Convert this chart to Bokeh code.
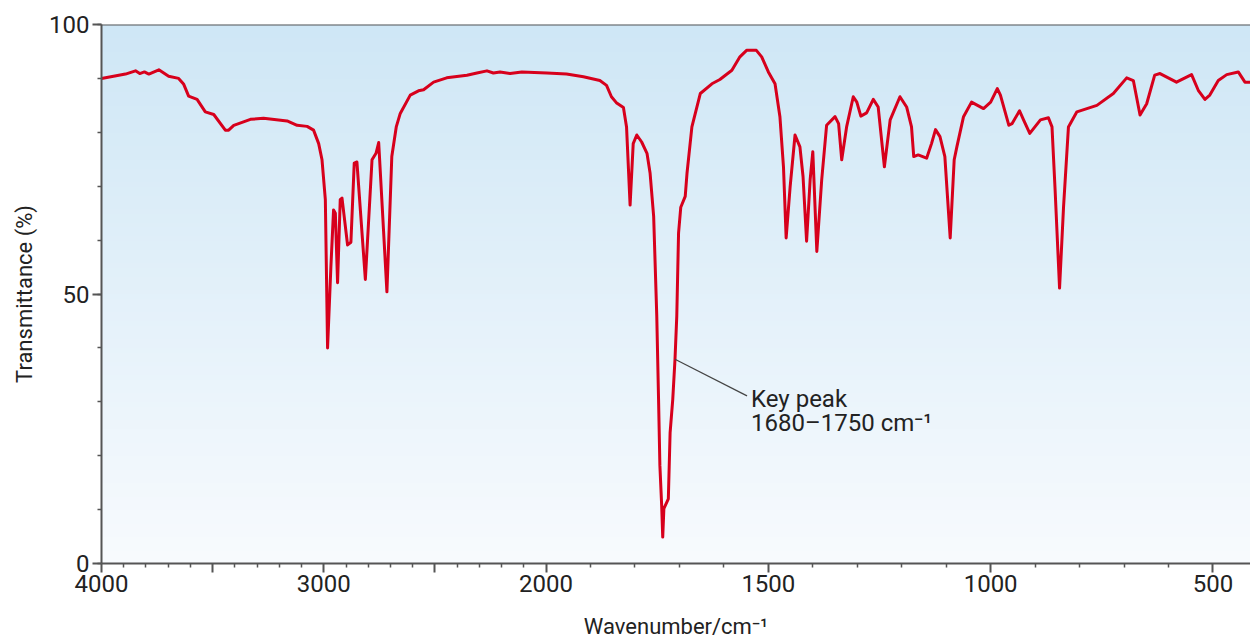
import numpy as np
from bokeh.plotting import figure
from bokeh.models import Range1d, FixedTicker, Span
from bokeh.embed import file_html
from bokeh.resources import INLINE
from bokeh.core.properties import value

# ---- data ----
wavenumber = [4000, 3892, 3847, 3828, 3807, 3787, 3742, 3698, 3653, 3630, 3608, 3570, 3533, 3495,
              3443, 3428, 3405, 3330, 3271, 3165, 3120, 3075, 3046, 3023, 3008, 2993, 2983, 2968,
              2956, 2948, 2938, 2926, 2918, 2893, 2878, 2863, 2851, 2813, 2783, 2765, 2753, 2716,
              2694, 2674, 2656, 2611, 2574, 2551, 2506, 2447, 2356, 2311, 2266, 2237, 2207, 2162,
              2109, 1998, 1954, 1916, 1879, 1864, 1853, 1842, 1826, 1819, 1811, 1804, 1796, 1785,
              1773, 1766, 1758, 1751, 1747, 1744, 1740, 1737.6, 1735, 1725, 1721, 1715, 1710, 1706,
              1702, 1697, 1687, 1683, 1672, 1653, 1627, 1609, 1582, 1564, 1549, 1527, 1515, 1500,
              1485, 1474, 1466, 1460, 1451, 1440, 1429, 1422, 1414, 1406, 1400, 1391, 1380, 1369,
              1350, 1342, 1335, 1324, 1309, 1301, 1292, 1279, 1264, 1253, 1239, 1226, 1204, 1189,
              1178, 1173, 1163, 1144, 1133, 1124, 1114, 1103, 1091, 1082, 1076, 1061, 1043, 1016,
              1000, 985, 978, 959, 952, 935, 926, 912, 888, 870, 862, 855, 845, 836, 825, 806,
              761, 724, 694, 679, 664, 649, 631, 619, 582, 548, 533, 518, 507, 488, 469, 443,
              428, 415]
transmittance = [90.0, 90.8, 91.4, 90.9, 91.2, 90.8, 91.6, 90.4, 90.0, 88.9, 86.7, 86.1, 83.8, 83.3,
                 80.4, 80.4, 81.3, 82.4, 82.6, 82.1, 81.3, 81.1, 80.4, 77.9, 74.9, 67.5, 40.0, 55.1,
                 65.6, 65.0, 52.1, 67.5, 67.8, 59.1, 59.6, 74.3, 74.5, 52.7, 74.9, 76.1, 78.1, 50.4,
                 75.5, 81.0, 83.5, 86.9, 87.7, 87.9, 89.3, 90.1, 90.6, 91.0, 91.4, 91.0, 91.2, 90.9,
                 91.2, 91.0, 90.8, 90.3, 89.6, 88.7, 86.6, 85.5, 84.6, 81.0, 66.5, 77.9, 79.5, 78.2,
                 76.1, 72.4, 64.4, 45.9, 30.5, 18.2, 10.8, 4.9, 10.2, 12.0, 24.3, 30.5, 37.9, 45.9,
                 61.3, 66.1, 68.1, 72.4, 81.0, 87.2, 89.0, 89.8, 91.5, 94.0, 95.2, 95.2, 94.0, 91.2,
                 89.0, 82.9, 73.6, 60.4, 69.9, 79.5, 77.3, 71.8, 59.8, 71.2, 76.4, 57.9, 71.2, 81.3,
                 82.9, 81.6, 74.9, 81.0, 86.6, 85.6, 83.0, 83.6, 86.1, 84.7, 73.6, 82.3, 86.6, 84.7,
                 81.0, 75.5, 75.8, 75.2, 77.9, 80.5, 79.2, 75.5, 60.4, 74.9, 77.3, 82.9, 85.6, 84.4,
                 85.6, 88.1, 86.9, 81.3, 81.6, 84.0, 82.3, 79.8, 82.3, 82.7, 81.0, 69.3, 51.1, 66.2,
                 81.0, 83.8, 85.0, 87.2, 90.1, 89.6, 83.2, 85.3, 90.6, 90.9, 89.3, 90.7, 87.8, 86.1,
                 86.9, 89.6, 90.7, 91.2, 89.3, 89.3]

x_labelled_ticks = [4000, 3000, 2000, 1500, 1000, 500]
x_unlabelled_ticks = [3500, 2500]
y_ticks = [0, 50, 100]

annotation_point = (1710, 37.9)
annotation_text_pos = (1548, 31.1)
annotation_lines = ["Key peak", "1680\u20131750 cm\u207b\u00b9"]


# IR spectra use a scale that doubles below 2000 cm-1
def xscale(w):
    w = np.asarray(w, dtype=float)
    return np.where(w >= 2000, 4000 - w, 2000 + 2 * (2000 - w))


FONT = "Roboto"
TXT = "#222222"
AX = "#555555"
XEND = float(xscale(415.5))

p = figure(width=1250, height=641, output_backend="svg", toolbar_location=None,
           x_range=Range1d(0, XEND), y_range=Range1d(0, 100),
           min_border_left=101, min_border_right=0, min_border_top=24, min_border_bottom=76)
p.grid.visible = False
p.outline_line_color = None
p.background_fill_color = "white"
p.border_fill_color = "white"

# gradient background
n = 120
top = np.array([207, 231, 246])
bot = np.array([248, 251, 254])
img = np.zeros((n, 1), dtype=np.uint32)
view = img.view(dtype=np.uint8).reshape((n, 1, 4))
for i in range(n):
    t = i / (n - 1)
    c = bot + (top - bot) * t
    view[i, 0, 0] = int(c[0]); view[i, 0, 1] = int(c[1]); view[i, 0, 2] = int(c[2]); view[i, 0, 3] = 255
p.image_rgba(image=[img], x=0, y=0, dw=XEND, dh=100)

p.add_layout(Span(location=100, dimension="width", line_color=AX, line_width=2))

# spectrum
p.line(xscale(wavenumber), transmittance, line_color="#d7001c", line_width=3, line_join="round")

# annotation leader + text
p.line(xscale([annotation_point[0], annotation_text_pos[0]]),
       [annotation_point[1], annotation_text_pos[1]], line_color="#444444", line_width=1.2)
tx = float(xscale(annotation_text_pos[0])) + 18
p.text(x=[tx], y=[annotation_text_pos[1] + 2.1], text=[annotation_lines[0]],
       text_font=value(FONT), text_font_size="24px", text_color=TXT, text_baseline="top")
p.text(x=[tx], y=[annotation_text_pos[1] - 2.4], text=[annotation_lines[1]],
       text_font=value(FONT), text_font_size="24px", text_color=TXT, text_baseline="top")

# axes
xt = x_labelled_ticks + x_unlabelled_ticks
minor = [w for w in range(4000, 399, -100) if w not in xt]
p.xaxis.ticker = FixedTicker(ticks=list(map(float, xscale(xt))),
                             minor_ticks=list(map(float, xscale(minor))))
overrides = {}
for w in x_labelled_ticks:
    overrides[float(xscale(w))] = str(w)
for w in x_unlabelled_ticks:
    overrides[float(xscale(w))] = ""
p.xaxis.major_label_overrides = overrides
p.yaxis.ticker = FixedTicker(ticks=y_ticks, minor_ticks=list(range(0, 101, 10)))

for ax in (p.xaxis[0], p.yaxis[0]):
    ax.axis_line_color = AX
    ax.axis_line_width = 2
    ax.major_tick_line_color = AX
    ax.minor_tick_line_color = AX
    ax.major_tick_line_width = 2
    ax.minor_tick_line_width = 1.5
    ax.major_tick_out = 9
    ax.major_tick_in = 0
    ax.minor_tick_out = 4
    ax.minor_tick_in = 0
    ax.major_label_text_font = FONT
    ax.major_label_text_font_size = "24px"
    ax.major_label_text_color = TXT
    ax.axis_label_text_font = FONT
    ax.axis_label_text_font_size = "22px"
    ax.axis_label_text_font_style = "normal"
    ax.axis_label_text_color = TXT

p.xaxis.axis_label = "Wavenumber/cm\u207b\u00b9"
p.yaxis.axis_label = "Transmittance (%)"
p.xaxis.major_label_standoff = 2
p.yaxis.major_label_standoff = 3
p.xaxis.axis_label_standoff = 19
p.yaxis.axis_label_standoff = 9

open("out.html", "w").write(file_html(p, INLINE))
